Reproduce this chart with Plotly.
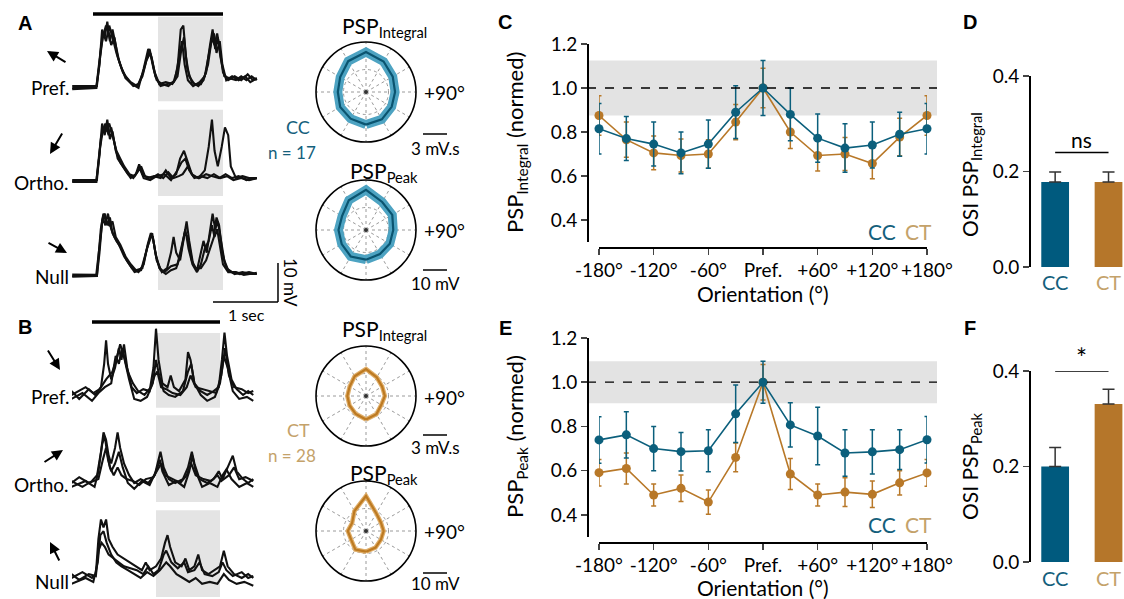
import plotly.graph_objects as go

W, H = 1124, 599
def px(x): return x / W
def py(y): return 1 - y / H

FONT = "Lato"
CC_COL = "#0b5f7c"
CT_COL = "#b87828"
CC_TXT = "#14607c"
CT_TXT = "#c4a26a"
CC_BAND = "#4da3c2"
CT_BAND = "#dfae6a"

# ---------------- data ----------------
ORIENT = [-180, -150, -120, -90, -60, -30, 0, 30, 60, 90, 120, 150, 180]
ORIENT_TICKS = [-180, -120, -60, 0, 60, 120, 180]
ORIENT_LABELS = ["-180°", "-120°", "-60°", "Pref.", "+60°", "+120°", "+180°"]

INT_CC = [0.815, 0.77, 0.745, 0.705, 0.745, 0.89, 1.0, 0.88, 0.772, 0.727, 0.741, 0.79, 0.815]
INT_CC_ERR = [0.115, 0.10, 0.10, 0.095, 0.11, 0.12, 0.125, 0.12, 0.11, 0.11, 0.105, 0.10, 0.115]
INT_CT = [0.875, 0.765, 0.705, 0.693, 0.70, 0.845, 1.0, 0.80, 0.693, 0.70, 0.657, 0.777, 0.875]
INT_CT_ERR = [0.09, 0.08, 0.077, 0.075, 0.065, 0.08, 0.09, 0.075, 0.07, 0.075, 0.07, 0.085, 0.09]

PEAK_CC = [0.739, 0.762, 0.70, 0.686, 0.69, 0.857, 1.0, 0.807, 0.757, 0.68, 0.685, 0.695, 0.74]
PEAK_CC_ERR = [0.105, 0.105, 0.10, 0.087, 0.095, 0.13, 0.095, 0.10, 0.13, 0.105, 0.10, 0.09, 0.105]
PEAK_CT = [0.591, 0.61, 0.49, 0.52, 0.458, 0.66, 1.0, 0.585, 0.49, 0.503, 0.493, 0.545, 0.59]
PEAK_CT_ERR = [0.06, 0.07, 0.05, 0.06, 0.055, 0.065, 0.08, 0.07, 0.05, 0.065, 0.06, 0.055, 0.06]

# polar amplitudes at preferred orientation
CC_INT_AMP = 5.2    # mV.s
CT_INT_AMP = 3.5    # mV.s
CC_PEAK_AMP = 17.4  # mV
CT_PEAK_AMP = 15.2  # mV
INT_RMAX = 6.5
PEAK_RMAX = 21.7

GROUPS = ["CC", "CT"]
OSI_INT = [0.178, 0.178]
OSI_INT_ERR = [0.021, 0.021]
OSI_PEAK = [0.20, 0.331]
OSI_PEAK_ERR = [0.04, 0.031]

# membrane potential traces (t in s, Vm in mV)
A_PREF = [
    [(-0.32,0),(0.05,0),(0.1,6),(0.14,15),(0.18,13),(0.22,17),(0.26,12),(0.3,15),(0.35,11),(0.4,7),(0.46,4),(0.54,2),(0.62,0.5),(0.7,1),(0.77,4),(0.83,8),(0.87,10),(0.91,7),(0.96,3),(1.04,0.5),(1.14,1),(1.24,1.5),(1.3,5),(1.35,15),(1.39,16),(1.43,8),(1.48,3),(1.56,1),(1.66,1),(1.74,4),(1.8,11),(1.84,15),(1.88,10),(1.92,13),(1.96,8),(2.02,3),(2.1,2.5),(2.2,2),(2.28,3),(2.36,2),(2.44,3),(2.52,2)],
    [(-0.32,0.5),(0.06,0.5),(0.11,8),(0.15,13),(0.2,16),(0.24,14),(0.28,11),(0.33,13),(0.38,8),(0.44,5),(0.5,3),(0.58,1.5),(0.68,0.5),(0.76,3),(0.82,7),(0.88,9),(0.93,5),(0.98,2),(1.06,1),(1.16,0.5),(1.26,2),(1.33,9),(1.37,12),(1.41,6),(1.46,2),(1.54,0.5),(1.64,1.5),(1.72,3),(1.78,8),(1.82,12),(1.86,14),(1.9,9),(1.95,12),(1.99,6),(2.05,2),(2.14,3),(2.24,2),(2.34,3),(2.42,1.5),(2.52,2.5)],
    [(-0.32,-0.3),(0.05,0),(0.12,10),(0.16,14),(0.2,12),(0.25,16),(0.3,13),(0.36,9),(0.42,6),(0.5,2.5),(0.6,1),(0.7,0),(0.78,5),(0.85,10),(0.9,8),(0.95,4),(1.02,1),(1.12,1.5),(1.22,1),(1.3,3),(1.36,10),(1.4,13),(1.45,5),(1.52,1.5),(1.62,0.5),(1.7,2),(1.77,6),(1.83,13),(1.87,11),(1.91,14),(1.95,10),(2.0,4),(2.08,2),(2.18,3),(2.28,2),(2.38,3.5),(2.46,2),(2.52,2.5)],
]
A_ORTHO = [
    [(-0.32,0),(0.05,0),(0.1,7),(0.14,15),(0.18,12),(0.22,16),(0.26,11),(0.3,13),(0.35,8),(0.42,5),(0.5,3),(0.58,1),(0.66,2),(0.71,4.5),(0.76,2),(0.84,1),(0.94,1.5),(1.04,1),(1.12,3),(1.2,1),(1.28,2),(1.34,6),(1.4,8),(1.46,5),(1.52,2),(1.62,1),(1.72,3),(1.78,9),(1.83,16),(1.87,8),(1.92,4),(1.98,9),(2.03,14),(2.08,12),(2.12,4),(2.2,1),(2.3,1.5),(2.4,1),(2.52,1)],
    [(-0.32,0.5),(0.06,0.5),(0.11,9),(0.15,13),(0.19,15),(0.24,12),(0.28,14),(0.33,10),(0.38,6),(0.46,4),(0.54,2),(0.62,1),(0.7,3),(0.74,4),(0.8,1.5),(0.9,1),(1.0,2),(1.08,1),(1.16,2.5),(1.24,1),(1.32,1.5),(1.38,2),(1.46,4),(1.54,1.5),(1.64,1),(1.74,2),(1.84,1.5),(1.94,1),(2.04,2),(2.14,1),(2.24,1.5),(2.36,0.5),(2.52,1)],
    [(-0.32,0.2),(0.05,0),(0.12,11),(0.16,14),(0.2,13),(0.25,15),(0.3,12),(0.36,8),(0.42,6),(0.48,4),(0.56,2),(0.64,1.5),(0.72,3.5),(0.78,1),(0.88,0.5),(0.98,1.5),(1.1,2),(1.2,0.5),(1.3,3),(1.36,5),(1.42,6),(1.48,3),(1.56,1),(1.66,1.5),(1.76,1),(1.86,2),(1.96,1),(2.06,1.5),(2.16,0.5),(2.28,1),(2.4,0.5),(2.52,1)],
]
A_NULL = [
    [(-0.32,0),(0.06,0),(0.1,6),(0.14,14),(0.18,16),(0.22,13),(0.26,15),(0.3,11),(0.36,9),(0.44,7),(0.52,4),(0.6,2),(0.7,1),(0.78,3),(0.84,8),(0.89,11),(0.93,9),(0.98,4),(1.06,1),(1.14,2),(1.2,6),(1.24,10),(1.28,6),(1.34,4),(1.4,10),(1.44,14),(1.48,9),(1.54,3),(1.6,1.5),(1.65,5),(1.7,9),(1.75,6),(1.8,11),(1.84,16),(1.88,12),(1.92,14),(1.96,10),(2.02,4),(2.08,1.5),(2.18,0.5),(2.3,1),(2.42,0.5),(2.52,0.5)],
    [(-0.32,0.4),(0.05,0.3),(0.11,9),(0.15,15),(0.19,13),(0.23,16),(0.28,12),(0.33,10),(0.4,8),(0.48,5),(0.56,3),(0.64,1),(0.74,1.5),(0.82,6),(0.88,10),(0.92,10),(0.97,5),(1.04,1.5),(1.12,0.5),(1.2,1.5),(1.28,2),(1.34,5),(1.38,9),(1.42,12),(1.47,7),(1.53,3),(1.6,1),(1.66,3),(1.72,7),(1.78,9),(1.83,13),(1.87,10),(1.91,12),(1.95,8),(2.0,3),(2.08,1),(2.2,1),(2.32,0.3),(2.52,0.8)],
    [(-0.32,-0.2),(0.06,0),(0.12,12),(0.16,16),(0.2,14),(0.25,13),(0.3,14),(0.35,10),(0.42,8),(0.5,5),(0.58,3),(0.66,1.5),(0.76,2),(0.83,7),(0.87,9),(0.91,11),(0.96,6),(1.02,2),(1.1,1),(1.2,2.5),(1.3,3),(1.36,7),(1.41,11),(1.46,10),(1.52,4),(1.58,2),(1.66,2),(1.74,4),(1.8,7),(1.86,10),(1.9,15),(1.94,13),(1.99,6),(2.05,2),(2.14,1),(2.26,0.5),(2.4,1),(2.52,0.5)],
]
B_PREF = [
    [(-0.32,1),(-0.2,-1),(-0.05,1.5),(0.05,0),(0.14,2),(0.19,8),(0.22,14),(0.25,8),(0.3,4),(0.36,7),(0.42,12),(0.46,9),(0.5,13),(0.55,7),(0.62,2),(0.7,0.5),(0.8,1.5),(0.9,1),(0.96,7),(1.0,17),(1.04,9),(1.1,3),(1.18,2),(1.23,5),(1.28,2),(1.36,1),(1.46,4),(1.5,11),(1.54,9),(1.6,3),(1.7,1),(1.8,0),(1.9,1),(1.98,2),(2.03,9),(2.07,16),(2.11,10),(2.18,4),(2.26,1.5),(2.36,0),(2.44,1),(2.52,0)],
    [(-0.32,-1),(-0.15,0.5),(0,-1.5),(0.1,0.5),(0.2,2),(0.3,3),(0.37,10),(0.42,8),(0.47,12),(0.52,8),(0.58,4),(0.66,-1),(0.76,-1.5),(0.86,-0.5),(0.95,3),(1.0,9),(1.05,5),(1.12,1),(1.2,0),(1.3,-0.5),(1.42,1),(1.5,6),(1.55,8),(1.6,3),(1.7,0),(1.8,-1.5),(1.92,-0.5),(2.0,3),(2.06,10),(2.12,7),(2.2,1),(2.3,-1),(2.42,-0.5),(2.52,-1.5)],
    [(-0.32,0),(-0.1,2),(0.02,0.5),(0.12,1.5),(0.22,4),(0.32,6),(0.38,9),(0.44,13),(0.5,10),(0.56,6),(0.64,3),(0.72,1),(0.82,0),(0.92,2),(0.98,5),(1.02,6),(1.08,2),(1.16,1.5),(1.26,0.5),(1.38,0),(1.48,2),(1.54,5),(1.62,2),(1.72,1.5),(1.82,1),(1.94,0.5),(2.02,5),(2.08,12),(2.14,5),(2.22,2),(2.34,1.5),(2.44,0.5),(2.52,1)],
]
B_ORTHO = [
    [(-0.32,0.5),(-0.15,-1),(0.0,0.5),(0.08,2),(0.14,8),(0.18,13),(0.22,11),(0.26,7),(0.3,5),(0.36,9),(0.4,13),(0.44,9),(0.5,5),(0.58,2),(0.66,0),(0.76,1),(0.88,0),(0.98,2),(1.04,6),(1.07,8),(1.12,4),(1.2,1),(1.3,0),(1.42,1),(1.5,4),(1.56,8),(1.6,5),(1.68,1),(1.8,0),(1.9,1),(1.98,3),(2.04,1),(2.12,4),(2.2,7),(2.26,3),(2.36,1),(2.44,0),(2.52,1)],
    [(-0.32,-1),(-0.1,0.5),(0.04,-1),(0.1,3),(0.16,10),(0.2,12),(0.25,6),(0.3,3),(0.36,5),(0.42,8),(0.48,4),(0.56,0),(0.66,-1.5),(0.78,0.5),(0.9,-0.5),(1.0,3),(1.06,6),(1.1,3),(1.2,-0.5),(1.32,0.5),(1.44,-1),(1.52,3),(1.57,7),(1.62,3),(1.72,-1),(1.84,0),(1.96,-1),(2.04,2),(2.1,3.5),(2.18,1),(2.3,-1),(2.42,0),(2.52,-1)],
    [(-0.32,0),(-0.2,1.5),(-0.05,0),(0.1,1),(0.17,6),(0.22,9),(0.28,4),(0.34,2),(0.4,4),(0.46,2),(0.54,1),(0.64,0.5),(0.74,-0.5),(0.84,1),(0.96,1.5),(1.04,4),(1.08,5),(1.14,2),(1.26,1),(1.38,0),(1.48,2),(1.55,5),(1.62,2),(1.74,1),(1.86,0.5),(1.96,2),(2.02,0.5),(2.14,2),(2.22,4),(2.3,1),(2.4,1.5),(2.52,0.5)],
]
B_NULL = [
    [(-0.32,0),(-0.15,1.5),(0.0,0),(0.06,1),(0.1,10),(0.14,15),(0.18,13),(0.22,15),(0.26,10),(0.32,8),(0.4,6),(0.5,5),(0.58,4),(0.68,3),(0.78,2),(0.84,4),(0.9,2),(1.0,3),(1.08,5),(1.14,9),(1.18,11),(1.22,8),(1.3,4),(1.4,3),(1.46,5),(1.52,2),(1.6,3),(1.66,6),(1.72,2),(1.82,1),(1.92,2),(2.0,3),(2.06,7),(2.12,3),(2.22,1),(2.34,0),(2.44,1),(2.52,0)],
    [(-0.32,-1.5),(-0.1,0),(0.02,-1),(0.09,4),(0.13,11),(0.18,12),(0.23,9),(0.3,6),(0.38,4),(0.46,3),(0.56,2),(0.66,1),(0.76,0),(0.86,1.5),(0.96,0.5),(1.06,2),(1.16,4),(1.22,3),(1.32,1),(1.42,0),(1.52,-1),(1.62,0),(1.72,-1.5),(1.84,-1),(1.96,-1.5),(2.06,1),(2.14,-0.5),(2.26,-1.5),(2.38,-1),(2.52,-2)],
    [(-0.32,1),(-0.2,-0.5),(-0.05,1),(0.06,0.5),(0.1,7),(0.15,9),(0.2,8),(0.26,6),(0.34,5),(0.42,4),(0.5,3),(0.6,2.5),(0.7,2),(0.8,1),(0.88,3),(0.96,1),(1.04,2),(1.12,6),(1.16,7),(1.24,4),(1.34,2.5),(1.44,4),(1.5,1.5),(1.6,2),(1.68,4),(1.76,1),(1.88,0.5),(1.98,1.5),(2.04,4),(2.1,2),(2.2,0.5),(2.34,1.5),(2.44,0),(2.52,0.5)],
]

# ---------------- figure ----------------
fig = go.Figure()
MV_PX = 3.9  # pixels per mV in trace panels

def ann(x, y, text, size=16, color="black", xref="paper", yref="paper", xanchor="center",
        yanchor="middle", family=FONT, **kw):
    return dict(x=x, y=y, xref=xref, yref=yref, text=text, showarrow=False, xanchor=xanchor,
                yanchor=yanchor, font=dict(family=family, size=size, color=color), **kw)

def row_axis(base, top, bottom, anchor):
    return dict(domain=[py(bottom), py(top)], range=[(base - bottom) / MV_PX, (base - top) / MV_PX],
                visible=False, fixedrange=True, anchor=anchor, automargin=False)

rowsA = [(88, 10, 123), (182, 104, 217), (276, 198, 311)]
rowsB = [(395, 317, 430), (483, 405, 518), (578, 500, 599)]

layout = dict(
    template="none",
    width=W, height=H, margin=dict(l=0, r=0, t=0, b=0, pad=0, autoexpand=False),
    paper_bgcolor="white", plot_bgcolor="rgba(0,0,0,0)", showlegend=False,
    font=dict(family=FONT, size=16, color="black"),
    xaxis=dict(domain=[px(72), px(280)], range=[(72 - 93) / 65, (280 - 93) / 65], visible=False,
               anchor="y3", automargin=False),
    xaxis2=dict(domain=[px(72), px(280)], range=[(72 - 92) / 64, (280 - 92) / 64], visible=False,
                anchor="y6", automargin=False),
)
for i, r in enumerate(rowsA):
    layout["yaxis" if i == 0 else f"yaxis{i+1}"] = row_axis(*r, "x")
for i, r in enumerate(rowsB):
    layout[f"yaxis{i+4}"] = row_axis(*r, "x2")

yrefsA = ["y", "y2", "y3"]
yrefsB = ["y4", "y5", "y6"]
for rows, yrefs, xref in [((A_PREF, A_ORTHO, A_NULL), yrefsA, "x"), ((B_PREF, B_ORTHO, B_NULL), yrefsB, "x2")]:
    for traces, yr in zip(rows, yrefs):
        for tr in traces:
            fig.add_trace(go.Scatter(x=[p[0] for p in tr], y=[p[1] for p in tr], mode="lines",
                                     line=dict(color="#111", width=2.1), xaxis=xref, yaxis=yr,
                                     hoverinfo="skip"))

shapes = []
annotations = []
# gray shading (second half of stimulus)
for yr, y0, y1 in zip(yrefsA, [-3.4, -3.6, -3.6], [18.3, 18.5, 18.2]):
    shapes.append(dict(type="rect", xref="x", yref=yr, x0=1.0, x1=2.0, y0=y0, y1=y1,
                       fillcolor="#e4e4e4", line=dict(width=0), layer="below"))
for yr, y0, y1 in zip(yrefsB, [-3.3, -4.9, -4.9], [15.9, 17.4, 17.4]):
    shapes.append(dict(type="rect", xref="x2", yref=yr, x0=1.0, x1=2.0, y0=y0, y1=y1,
                       fillcolor="#e4e4e4", line=dict(width=0), layer="below"))
# stimulus bars
shapes.append(dict(type="line", xref="x", yref="y", x0=0, x1=2, y0=19, y1=19, line=dict(color="black", width=3.5)))
shapes.append(dict(type="line", xref="x2", yref="y4", x0=0, x1=2, y0=18.7, y1=18.7, line=dict(color="black", width=3.5)))
# scale bars 1 s / 10 mV
shapes.append(dict(type="line", xref="x", yref="y3", x0=2.846, x1=2.846, y0=3.33, y1=-6.67, line=dict(color="black", width=1.5)))
shapes.append(dict(type="line", xref="x", yref="y3", x0=1.846, x1=2.846, y0=-6.67, y1=-6.67, line=dict(color="black", width=1.5)))
annotations.append(ann(px(291), py(282), "10 mV", size=17, textangle=90))
annotations.append(ann(px(246), py(314), "1 sec", size=16))

# row labels & arrows
for txt, yy in [("Pref.", 88), ("Ortho.", 182), ("Null", 277), ("Pref.", 396), ("Ortho.", 484), ("Null", 581)]:
    annotations.append(ann(px(71), py(yy), txt, size=19, xanchor="right"))
for (hx, hy), (ax, ay) in [((47, 51), (20, 12)), ((50, 154), (13, -22)), ((67, 253), (-20, -11)),
                           ((60, 370), (-13, -21)), ((63, 450), (-20, 13)), ((50, 542), (10, 20))]:
    annotations.append(dict(x=px(hx), y=py(hy), xref="paper", yref="paper", text="", showarrow=True,
                            ax=ax, ay=ay, arrowhead=2, arrowsize=1.1, arrowwidth=2, arrowcolor="black",
                            font=dict(size=10)))

# ---------------- polar plots ----------------
def polar_layout(cx, cy, rmax, r=50):
    return dict(domain=dict(x=[px(cx - r), px(cx + r)], y=[py(cy + r), py(cy - r)]),
                bgcolor="white",
                angularaxis=dict(rotation=90, direction="clockwise", tickvals=list(range(0, 360, 30)),
                                 showticklabels=False, ticks="", showline=True, linecolor="black", linewidth=1.6,
                                 gridcolor="#9a9a9a", griddash="dot", gridwidth=1),
                radialaxis=dict(range=[0, rmax], tickvals=[rmax * 0.45], showticklabels=False, ticks="",
                                showline=False, gridcolor="#9a9a9a", griddash="dot", gridwidth=1))

polars = [("polar", 366, 92, INT_CC, CC_INT_AMP, INT_RMAX, CC_BAND, "#0a5470", 9),
          ("polar2", 366, 230, PEAK_CC, CC_PEAK_AMP, PEAK_RMAX, CC_BAND, "#0a5470", 9),
          ("polar3", 366, 396, INT_CT, CT_INT_AMP, INT_RMAX, CT_BAND, "#bd7a22", 4.5),
          ("polar4", 366, 531, PEAK_CT, CT_PEAK_AMP, PEAK_RMAX, CT_BAND, "#bd7a22", 4.5)]
for name, cx, cy, vals, amp, rmax, band, col, bw in polars:
    layout[name] = polar_layout(cx, cy, rmax)
    rr = [v * amp for v in vals]
    fig.add_trace(go.Scatterpolar(r=rr, theta=ORIENT, mode="lines", line=dict(color=band, width=bw),
                                  subplot=name, hoverinfo="skip"))
    fig.add_trace(go.Scatterpolar(r=rr, theta=ORIENT, mode="lines", line=dict(color=col, width=2.2),
                                  subplot=name, hoverinfo="skip"))
    fig.add_trace(go.Scatterpolar(r=[0], theta=[0], mode="markers", marker=dict(color="#333", size=4),
                                  subplot=name, hoverinfo="skip"))

for (tx, ty, sub) in [(384, 27, "Integral"), (384, 172, "Peak"), (384, 330, "Integral"), (384, 474, "Peak")]:
    annotations.append(ann(px(tx), py(ty), f"PSP<sub>{sub}</sub>", size=21))
for yy in [92, 230, 397, 531]:
    annotations.append(ann(px(444), py(yy), "+90°", size=19))
for txt, yy, by in [("3 mV.s", 148, 134), ("10 mV", 283, 270), ("3 mV.s", 447, 435), ("10 mV", 583, 573)]:
    annotations.append(ann(px(436), py(yy), txt, size=17))
    shapes.append(dict(type="line", xref="paper", yref="paper", x0=px(423), x1=px(447), y0=py(by), y1=py(by),
                       line=dict(color="black", width=1.5)))
annotations += [
    ann(px(298), py(127), "CC", size=18, color=CC_TXT),
    ann(px(292), py(152), "n = 17", size=17, color=CC_TXT),
    ann(px(298), py(430), "CT", size=18, color=CT_TXT),
    ann(px(292), py(455), "n = 28", size=17, color=CT_TXT),
]

# ---------------- tuning curves C / E ----------------
def tuning_axes(xn, yn, ytop, ybot, xline):
    layout[xn] = dict(domain=[px(599), px(927)], range=[-180, 180], anchor="free", position=py(xline),
                      tickvals=ORIENT_TICKS, ticktext=ORIENT_LABELS, showline=True, linecolor="black", linewidth=1.5,
                      ticks="outside", ticklen=6, tickwidth=1.5, showgrid=False, zeroline=False,
                      tickfont=dict(size=19), fixedrange=True, automargin=False)
    layout[yn] = dict(domain=[py(ybot), py(ytop)], range=[0.3, 1.2], anchor="free", position=px(587),
                      tickvals=[0.4, 0.6, 0.8, 1.0, 1.2], ticktext=["0.4", "0.6", "0.8", "1.0", "1.2"],
                      showline=True, linecolor="black", linewidth=1.5, ticks="outside", ticklen=6, tickwidth=1.5,
                      showgrid=False, zeroline=False, tickfont=dict(size=19), fixedrange=True, automargin=False)

tuning_axes("xaxis3", "yaxis7", 44, 242, 247)
tuning_axes("xaxis4", "yaxis8", 338, 537, 542)

for xr, yr, cc, cce, ct, cte in [("x3", "y7", INT_CC, INT_CC_ERR, INT_CT, INT_CT_ERR),
                                 ("x4", "y8", PEAK_CC, PEAK_CC_ERR, PEAK_CT, PEAK_CT_ERR)]:
    pref = ORIENT.index(0)
    shapes.append(dict(type="rect", xref="paper", yref=yr, x0=px(587), x1=px(937),
                       y0=cc[pref] - cce[pref], y1=cc[pref] + cce[pref],
                       fillcolor="#e3e3e3", line=dict(width=0), layer="below"))
    shapes.append(dict(type="line", xref="paper", yref=yr, x0=px(587), x1=px(937), y0=1.0, y1=1.0,
                       line=dict(color="black", width=1.3, dash="dash")))
    for vals, errs, col in [(ct, cte, CT_COL), (cc, cce, CC_COL)]:
        fig.add_trace(go.Scatter(x=ORIENT, y=vals, mode="lines+markers", xaxis=xr, yaxis=yr,
                                 line=dict(color=col, width=1.6), marker=dict(color=col, size=9),
                                 error_y=dict(type="data", array=errs, color=col, thickness=1.5, width=2.5),
                                 cliponaxis=False, hoverinfo="skip"))

annotations += [
    ann(px(898), py(231), "CC", size=21, color=CC_TXT, xanchor="right"),
    ann(px(903), py(231), "CT", size=21, color=CT_TXT, xanchor="left"),
    ann(px(898), py(524), "CC", size=21, color=CC_TXT, xanchor="right"),
    ann(px(903), py(524), "CT", size=21, color=CT_TXT, xanchor="left"),
    ann(px(763), py(293), "Orientation (°)", size=21),
    ann(px(763), py(587), "Orientation (°)", size=21),
    ann(px(516), py(143), "PSP<sub>Integral</sub> (normed)", size=22, textangle=-90),
    ann(px(516), py(437), "PSP<sub>Peak</sub> (normed)", size=22, textangle=-90),
]

# ---------------- OSI bars D / F ----------------
def bar_axes(xn, yn, ytop, ybot):
    layout[xn] = dict(domain=[px(1029), px(1124)], range=[-0.49, 1.29], visible=False, anchor="free",
                      position=py(ybot), fixedrange=True, automargin=False)
    layout[yn] = dict(domain=[py(ybot), py(ytop)], range=[0, 0.4], anchor="free", position=px(1029),
                      tickvals=[0, 0.2, 0.4], ticktext=["0.0", "0.2", "0.4"], showline=True, linecolor="black",
                      linewidth=1.5, ticks="outside", ticklen=6, tickwidth=1.5, showgrid=False, zeroline=False,
                      tickfont=dict(size=19), fixedrange=True, automargin=False)

bar_axes("xaxis5", "yaxis9", 76, 267)
bar_axes("xaxis6", "yaxis10", 371, 562)
for xr, yr, vals, errs in [("x5", "y9", OSI_INT, OSI_INT_ERR), ("x6", "y10", OSI_PEAK, OSI_PEAK_ERR)]:
    fig.add_trace(go.Bar(x=[0, 1], y=vals, xaxis=xr, yaxis=yr, width=0.52,
                         marker=dict(color=["#005a7e", "#b5762a"], line=dict(width=0)),
                         error_y=dict(type="data", array=errs, arrayminus=[0, 0], symmetric=False,
                                      color="#333", thickness=1.5, width=6), hoverinfo="skip"))

shapes.append(dict(type="line", xref="x5", yref="y9", x0=0, x1=1, y0=0.24, y1=0.24, line=dict(color="black", width=1.5)))
shapes.append(dict(type="line", xref="x6", yref="y10", x0=0, x1=1, y0=0.4, y1=0.4, line=dict(color="black", width=1.5)))
annotations += [
    ann(0.5, 0.266, "ns", size=21, xref="x5", yref="y9"),
    ann(0.5, py(358), "*", size=26, xref="x6", yref="paper"),
]
for xr, yy in [("x5", 282), ("x6", 578)]:
    for i, g in enumerate(GROUPS):
        annotations.append(ann(i, py(yy), g, size=20, color=CC_TXT if g == "CC" else CT_TXT, xref=xr))
annotations += [
    ann(px(971), py(175), "OSI PSP<sub>Integral</sub>", size=21, textangle=-90),
    ann(px(971), py(466), "OSI PSP<sub>Peak</sub>", size=21, textangle=-90),
]

# panel letters
for letter, lx, ly in [("A", 25, 23), ("B", 25, 327), ("C", 505, 22), ("D", 970, 22), ("E", 505, 328), ("F", 970, 328)]:
    annotations.append(ann(px(lx), py(ly), f"<b>{letter}</b>", size=20, family="Liberation Sans"))

layout["shapes"] = shapes
layout["annotations"] = annotations
fig.update_layout(**layout)
fig.write_html("out.html", config={"displayModeBar": False, "staticPlot": True},
               post_script="document.body.style.margin='0';document.body.style.overflow='hidden';")
